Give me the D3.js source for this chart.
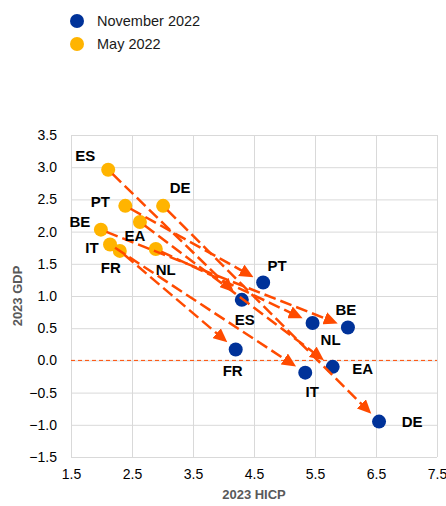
<!DOCTYPE html>
<html>
<head>
<meta charset="utf-8">
<title>HICP vs GDP 2023</title>
<script src="https://d3js.org/d3.v7.min.js"></script>
<style>
  html, body { margin: 0; padding: 0; background: #fff; }
  svg { font-family: Arial, "Liberation Sans", sans-serif; }
</style>
</head>
<body>
<div id="chart"></div>
<script>
// data
const countries = ["ES", "PT", "DE", "EA", "BE", "IT", "FR", "NL"];
const mayHicp = [2.11, 2.39, 3.01, 2.63, 1.99, 2.14, 2.30, 2.89];
const mayGdp  = [2.96, 2.40, 2.40, 2.15, 2.03, 1.80, 1.70, 1.73];
const novHicp = [4.30, 4.65, 6.55, 5.79, 6.04, 5.34, 4.20, 5.46];
const novGdp  = [0.94, 1.21, -0.95, -0.10, 0.51, -0.19, 0.17, 0.58];
const xTicks = [1.5, 2.5, 3.5, 4.5, 5.5, 6.5, 7.5];
const yTicks = [-1.5, -1.0, -0.5, 0.0, 0.5, 1.0, 1.5, 2.0, 2.5, 3.0, 3.5];
const seriesNames = ["November 2022", "May 2022"];

// label offsets (px) relative to the dot
const mayOff = {ES: [-23, -14], PT: [-25, -4], DE: [17, -18], EA: [-5, 14], BE: [-21, -8], IT: [-18, 4], FR: [-9, 17], NL: [10, 21]};
const novOff = {ES: [3, 20], PT: [14, -16], DE: [33, 0], EA: [30, 2], BE: [-2, -18], IT: [7, 19], FR: [-3, 22], NL: [18, 17]};

const blue = "#003299", yellow = "#FFB400", orange = "#FF4B00";

const W = 446, H = 506;
const svg = d3.select("#chart").append("svg").attr("width", W).attr("height", H);

const x = d3.scaleLinear().domain([1.5, 7.5]).range([71, 437]);
const y = d3.scaleLinear().domain([-1.5, 3.5]).range([457, 135]);

// grid + axes
svg.append("g")
  .attr("transform", `translate(0,${y(-1.5)})`)
  .call(d3.axisBottom(x).tickValues(xTicks).tickFormat(d3.format(".1f")).tickSize(-(y(-1.5) - y(3.5))).tickPadding(12))
  .call(g => g.select(".domain").remove())
  .call(g => g.selectAll("line").attr("stroke", "#d9d9d9"))
  .call(g => g.selectAll("text").attr("font-size", 14).attr("fill", "#000"));

svg.append("g")
  .attr("transform", `translate(${x(1.5)},0)`)
  .call(d3.axisLeft(y).tickValues(yTicks).tickFormat(d3.format(".1f")).tickSize(-(x(7.5) - x(1.5))).tickPadding(14))
  .call(g => g.select(".domain").remove())
  .call(g => g.selectAll("line").attr("stroke", "#d9d9d9"))
  .call(g => g.selectAll("text").attr("font-size", 14).attr("fill", "#000"));

// zero line
svg.append("line")
  .attr("x1", x(1.5)).attr("x2", x(7.5))
  .attr("y1", y(0)).attr("y2", y(0))
  .attr("stroke", orange).attr("stroke-width", 1)
  .attr("stroke-dasharray", "4,3");

// axis titles
svg.append("text")
  .attr("x", (x(1.5) + x(7.5)) / 2).attr("y", 499)
  .attr("text-anchor", "middle").attr("font-size", 13).attr("font-weight", "bold")
  .attr("fill", "#595959").text("2023 HICP");

svg.append("text")
  .attr("transform", `translate(22,${(y(3.5) + y(-1.5)) / 2}) rotate(-90)`)
  .attr("text-anchor", "middle").attr("font-size", 13).attr("font-weight", "bold")
  .attr("fill", "#595959").text("2023 GDP");

// dots
const data = countries.map((c, i) => ({c, x0: mayHicp[i], y0: mayGdp[i], x1: novHicp[i], y1: novGdp[i]}));

svg.append("g").selectAll("circle").data(data).enter().append("circle")
  .attr("cx", d => x(d.x0)).attr("cy", d => y(d.y0)).attr("r", 7).attr("fill", yellow);

svg.append("g").selectAll("circle").data(data).enter().append("circle")
  .attr("cx", d => x(d.x1)).attr("cy", d => y(d.y1)).attr("r", 7).attr("fill", blue);

// arrows
svg.append("defs").append("marker")
  .attr("id", "head").attr("markerUnits", "userSpaceOnUse")
  .attr("viewBox", "0 0 14 13").attr("markerWidth", 14).attr("markerHeight", 13)
  .attr("refX", 1).attr("refY", 6.5).attr("orient", "auto")
  .append("path").attr("d", "M0,0 L14,6.5 L0,13 Z").attr("fill", orange);

svg.append("g").selectAll("line").data(data).enter().append("line")
  .each(function(d) {
    const ax = x(d.x0), ay = y(d.y0), bx = x(d.x1), by = y(d.y1);
    const len = Math.hypot(bx - ax, by - ay);
    const ux = (bx - ax) / len, uy = (by - ay) / len;
    d3.select(this)
      .attr("x1", ax + ux * 6).attr("y1", ay + uy * 6)
      .attr("x2", bx - ux * 24).attr("y2", by - uy * 24);
  })
  .attr("stroke", orange).attr("stroke-width", 2.5)
  .attr("stroke-dasharray", "12,5")
  .attr("marker-end", "url(#head)");

// country labels
const lab = svg.append("g").attr("font-size", 15).attr("font-weight", "bold").attr("fill", "#000").attr("text-anchor", "middle");
lab.selectAll(".may").data(data).enter().append("text")
  .attr("x", d => x(d.x0) + mayOff[d.c][0]).attr("y", d => y(d.y0) + mayOff[d.c][1] + 5)
  .text(d => d.c);
lab.selectAll(".nov").data(data).enter().append("text")
  .attr("x", d => x(d.x1) + novOff[d.c][0]).attr("y", d => y(d.y1) + novOff[d.c][1] + 5)
  .text(d => d.c);

// legend
const leg = svg.append("g");
seriesNames.forEach((s, i) => {
  leg.append("circle").attr("cx", 77).attr("cy", 21 + i * 23).attr("r", 7).attr("fill", i === 0 ? blue : yellow);
  leg.append("text").attr("x", 97).attr("y", 26 + i * 23).attr("font-size", 14.5).attr("fill", "#1a1a1a").text(s);
});
</script>
</body>
</html>
